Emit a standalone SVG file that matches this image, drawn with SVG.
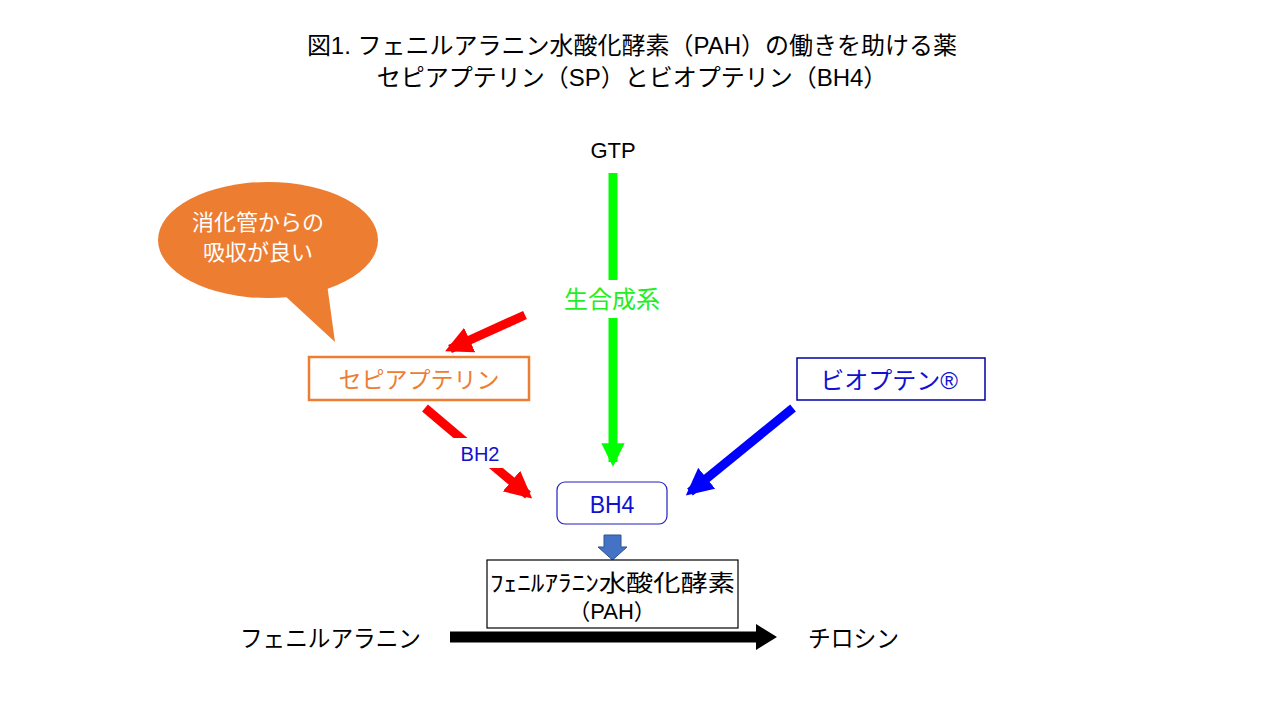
<svg xmlns="http://www.w3.org/2000/svg" width="1280" height="720" viewBox="0 0 1280 720">
<style>
text{font-family:"Liberation Sans","Noto Sans CJK JP",sans-serif;}
.c{text-anchor:middle;}
.t{font-size:24px;fill:#000;}
.blue{fill:#1010D0;}
</style>
<defs>
<marker id="mr" viewBox="0 0 10 10" refX="8" refY="5" markerWidth="3" markerHeight="3" orient="auto" markerUnits="strokeWidth"><path d="M0,0 L10,5 L0,10 z" fill="#FF0000"/></marker>
<marker id="mg" viewBox="0 0 10 10" refX="8" refY="5" markerWidth="2.6" markerHeight="3" orient="auto" markerUnits="strokeWidth"><path d="M0,0 L10,5 L0,10 z" fill="#00FF00"/></marker>
<marker id="mb" viewBox="0 0 10 10" refX="8" refY="5" markerWidth="3" markerHeight="3" orient="auto" markerUnits="strokeWidth"><path d="M0,0 L10,5 L0,10 z" fill="#0000FF"/></marker>
</defs>
<rect width="1280" height="720" fill="#fff"/>
<g id="title">
<text class="c t" x="632" y="54">図1.  フェニルアラニン水酸化酵素（PAH）の働きを助ける薬</text>
<text class="c t" x="632" y="86">セピアプテリン（SP）とビオプテリン（BH4）</text>
</g>
<g id="connectors">
<line x1="613" y1="173" x2="613" y2="462" stroke="#00FF00" stroke-width="9" marker-end="url(#mg)"/>
<line x1="525" y1="315" x2="450" y2="349" stroke="#FF0000" stroke-width="9" marker-end="url(#mr)"/>
<line x1="425" y1="408" x2="528" y2="495" stroke="#FF0000" stroke-width="9" marker-end="url(#mr)"/>
<line x1="793" y1="408" x2="690" y2="492" stroke="#0000FF" stroke-width="9" marker-end="url(#mb)"/>
<path d="M450,631.5 H756 V624 L777,637 L756,650 V642.5 H450 Z" fill="#000"/>
<path d="M604,535 H621 V547 H627 L612.5,560 L598,547 H604 Z" fill="#4472C4" stroke="#2F528F" stroke-width="1"/>
</g>
<g id="gtp"><text class="c" x="613" y="158" font-size="22">GTP</text></g>
<g id="biosynthesis">
<rect x="552" y="280" width="122" height="38" fill="#fff"/>
<text class="c" x="612" y="308" font-size="24" fill="#22EE22">生合成系</text>
</g>
<g id="bubble">
<path d="M283,294 L335,342 L327,284 Z" fill="#ED7D31"/>
<ellipse cx="268" cy="240" rx="110" ry="58" fill="#ED7D31"/>
<text x="192" y="230" font-size="22" fill="#fff">消化管からの</text>
<text x="203" y="260" font-size="22" fill="#fff">吸収が良い</text>
</g>
<g id="sepiapterin">
<rect x="309" y="357" width="220" height="43" fill="#fff" stroke="#ED7D31" stroke-width="2.5"/>
<text class="c" x="419" y="388" font-size="23" fill="#ED7D31">セピアプテリン</text>
</g>
<g id="bh2">
<rect x="452" y="438" width="56" height="30" fill="#fff"/>
<text class="c blue" x="480" y="461" font-size="20">BH2</text>
</g>
<g id="biopten">
<rect x="797" y="358" width="188" height="42" fill="#fff" stroke="#0000A0" stroke-width="1.5"/>
<text class="c blue" x="889" y="389" font-size="24">ビオプテン®</text>
</g>
<g id="bh4">
<rect x="557" y="482" width="110" height="42" rx="8" fill="#fff" stroke="#2020C0" stroke-width="1.2"/>
<text class="c blue" x="612" y="513" font-size="23">BH4</text>
</g>
<g id="pah">
<rect x="487" y="560" width="251" height="68" fill="#fff" stroke="#000" stroke-width="1.2"/>
<text x="490" y="591" font-size="23" textLength="245" lengthAdjust="spacingAndGlyphs">ﾌｪﾆﾙｱﾗﾆﾝ水酸化酵素</text>
<text class="c" x="612" y="619" font-size="22">（PAH）</text>
</g>
<g id="phenylalanine"><text x="240" y="647" font-size="24" textLength="181" lengthAdjust="spacingAndGlyphs">フェニルアラニン</text></g>
<g id="tyrosine"><text x="808" y="647" font-size="24" textLength="91" lengthAdjust="spacingAndGlyphs">チロシン</text></g>
</svg>
